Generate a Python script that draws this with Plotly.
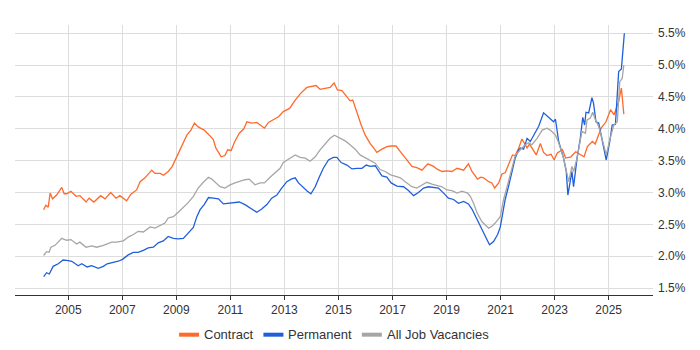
import plotly.graph_objects as go

# ---- Data (decimal years, percent) ----
contract_t = [2004.09, 2004.17, 2004.26, 2004.33, 2004.42, 2004.57, 2004.76, 2004.85, 2004.94, 2005.10,
              2005.29, 2005.43, 2005.66, 2005.77, 2005.95, 2006.20, 2006.36, 2006.57, 2006.77, 2006.91,
              2007.16, 2007.31, 2007.53, 2007.66, 2007.84, 2008.09, 2008.21, 2008.40, 2008.52, 2008.70,
              2008.85, 2009.01, 2009.20, 2009.39, 2009.54, 2009.67, 2009.81, 2010.03, 2010.22, 2010.37,
              2010.46, 2010.66, 2010.80, 2010.90, 2011.03, 2011.15, 2011.33, 2011.50, 2011.61, 2011.79,
              2011.98, 2012.14, 2012.26, 2012.41, 2012.59, 2012.78, 2012.96, 2013.19, 2013.40, 2013.61,
              2013.83, 2014.01, 2014.17, 2014.32, 2014.51, 2014.69, 2014.84, 2014.96, 2015.13, 2015.31,
              2015.43, 2015.53, 2015.68, 2015.84, 2015.99, 2016.17, 2016.30, 2016.42, 2016.61, 2016.79,
              2016.95, 2017.13, 2017.29, 2017.47, 2017.72, 2017.90, 2018.09, 2018.31, 2018.52, 2018.64,
              2018.83, 2019.01, 2019.20, 2019.39, 2019.63, 2019.81, 2019.94, 2020.15, 2020.27, 2020.37,
              2020.56, 2020.68, 2020.78, 2020.93, 2021.05, 2021.17, 2021.33, 2021.44, 2021.54, 2021.67,
              2021.79, 2021.89, 2021.98, 2022.07, 2022.20, 2022.32, 2022.47, 2022.59, 2022.72, 2022.87,
              2022.98, 2023.10, 2023.29, 2023.41, 2023.60, 2023.78, 2023.93, 2024.09, 2024.21, 2024.40,
              2024.50, 2024.72, 2024.90, 2025.07, 2025.20, 2025.37, 2025.47, 2025.56]
contract_v = [2.73, 2.80, 2.77, 2.99, 2.90, 2.96, 3.08, 2.98, 2.98, 3.02,
              2.94, 2.95, 2.85, 2.91, 2.85, 2.95, 2.90, 3.00, 2.91, 2.95,
              2.87, 2.97, 3.04, 3.17, 3.23, 3.35, 3.30, 3.30, 3.27, 3.33,
              3.41, 3.56, 3.75, 3.90, 3.98, 4.09, 4.03, 3.98, 3.90, 3.83,
              3.70, 3.56, 3.58, 3.67, 3.66, 3.79, 3.93, 4.00, 4.11, 4.09,
              4.10, 4.05, 4.01, 4.10, 4.14, 4.19, 4.27, 4.32, 4.45, 4.56,
              4.65, 4.66, 4.68, 4.62, 4.64, 4.65, 4.72, 4.61, 4.60, 4.51,
              4.44, 4.45, 4.25, 4.06, 3.90, 3.77, 3.70, 3.63, 3.68, 3.72,
              3.73, 3.73, 3.64, 3.55, 3.41, 3.39, 3.35, 3.45, 3.41, 3.37,
              3.33, 3.34, 3.33, 3.38, 3.35, 3.45, 3.33, 3.21, 3.24, 3.23,
              3.17, 3.15, 3.07, 3.15, 3.29, 3.31, 3.46, 3.59, 3.58, 3.70,
              3.84, 3.77, 3.70, 3.76, 3.66, 3.59, 3.77, 3.63, 3.58, 3.60,
              3.51, 3.62, 3.67, 3.54, 3.56, 3.64, 3.60, 3.56, 3.72, 3.80,
              3.76, 4.01, 4.11, 4.30, 4.22, 4.43, 4.64, 4.23]

permanent_t = [2004.09, 2004.20, 2004.30, 2004.44, 2004.63, 2004.81, 2005.00, 2005.13, 2005.37, 2005.50,
               2005.70, 2005.87, 2006.11, 2006.30, 2006.44, 2006.67, 2006.85, 2007.01, 2007.22, 2007.41,
               2007.59, 2007.78, 2007.96, 2008.15, 2008.33, 2008.52, 2008.70, 2008.89, 2009.07, 2009.26,
               2009.44, 2009.63, 2009.76, 2009.88, 2010.03, 2010.19, 2010.37, 2010.56, 2010.74, 2010.93,
               2011.11, 2011.33, 2011.54, 2011.73, 2011.98, 2012.16, 2012.35, 2012.53, 2012.72, 2012.90,
               2013.09, 2013.25, 2013.40, 2013.52, 2013.68, 2013.85, 2013.98, 2014.14, 2014.30, 2014.44,
               2014.63, 2014.81, 2014.94, 2015.10, 2015.31, 2015.50, 2015.68, 2015.87, 2016.03, 2016.17,
               2016.36, 2016.46, 2016.61, 2016.79, 2016.95, 2017.16, 2017.41, 2017.59, 2017.78, 2017.96,
               2018.15, 2018.33, 2018.52, 2018.70, 2018.89, 2019.07, 2019.26, 2019.44, 2019.63, 2019.81,
               2019.94, 2020.13, 2020.31, 2020.50, 2020.59, 2020.74, 2020.89, 2020.99, 2021.17, 2021.29,
               2021.42, 2021.54, 2021.67, 2021.73, 2021.85, 2021.98, 2022.10, 2022.22, 2022.41, 2022.59,
               2022.74, 2022.87, 2022.96, 2023.03, 2023.15, 2023.33, 2023.43, 2023.49, 2023.58, 2023.64,
               2023.70, 2023.83, 2023.95, 2024.04, 2024.11, 2024.16, 2024.26, 2024.38, 2024.44, 2024.53,
               2024.63, 2024.75, 2024.91, 2025.04, 2025.13, 2025.25, 2025.37, 2025.47, 2025.58]
permanent_v = [1.68, 1.74, 1.72, 1.84, 1.88, 1.94, 1.93, 1.92, 1.85, 1.88,
               1.83, 1.85, 1.81, 1.84, 1.88, 1.90, 1.92, 1.95, 2.02, 2.06,
               2.06, 2.09, 2.13, 2.14, 2.21, 2.24, 2.31, 2.28, 2.27, 2.28,
               2.36, 2.45, 2.62, 2.73, 2.81, 2.92, 2.91, 2.90, 2.82, 2.83,
               2.84, 2.85, 2.81, 2.76, 2.69, 2.74, 2.81, 2.91, 2.96, 3.07,
               3.17, 3.21, 3.23, 3.15, 3.08, 3.02, 2.98, 3.09, 3.25, 3.38,
               3.51, 3.55, 3.55, 3.47, 3.43, 3.37, 3.38, 3.38, 3.43, 3.41,
               3.42, 3.36, 3.26, 3.24, 3.15, 3.10, 3.09, 3.03, 2.95, 3.00,
               3.07, 3.09, 3.08, 3.07, 2.99, 2.91, 2.89, 2.83, 2.86, 2.82,
               2.74, 2.58, 2.41, 2.26, 2.18, 2.23, 2.34, 2.46, 2.89, 3.09,
               3.30, 3.54, 3.67, 3.70, 3.68, 3.85, 3.80, 3.90, 4.04, 4.25,
               4.19, 4.14, 4.11, 4.15, 3.80, 3.54, 3.33, 2.96, 3.17, 3.33,
               3.09, 3.54, 3.85, 4.18, 4.06, 4.26, 4.25, 4.49, 4.40, 4.11,
               4.09, 3.85, 3.51, 3.80, 4.06, 4.07, 4.90, 4.94, 5.50]

all_t = [2004.09, 2004.20, 2004.29, 2004.36, 2004.51, 2004.76, 2004.94, 2005.10, 2005.31, 2005.43,
         2005.66, 2005.87, 2006.05, 2006.30, 2006.61, 2006.79, 2007.04, 2007.22, 2007.41, 2007.59,
         2007.78, 2008.03, 2008.21, 2008.40, 2008.58, 2008.70, 2008.89, 2009.07, 2009.26, 2009.44,
         2009.63, 2009.81, 2010.00, 2010.19, 2010.31, 2010.43, 2010.62, 2010.80, 2010.99, 2011.17,
         2011.36, 2011.54, 2011.70, 2011.91, 2012.10, 2012.26, 2012.47, 2012.66, 2012.84, 2012.96,
         2013.15, 2013.40, 2013.58, 2013.77, 2013.95, 2014.14, 2014.32, 2014.51, 2014.69, 2014.85,
         2015.06, 2015.25, 2015.43, 2015.62, 2015.80, 2015.99, 2016.17, 2016.36, 2016.54, 2016.73,
         2016.91, 2017.10, 2017.29, 2017.47, 2017.72, 2017.90, 2018.09, 2018.27, 2018.46, 2018.64,
         2018.83, 2019.01, 2019.20, 2019.39, 2019.57, 2019.78, 2019.88, 2020.00, 2020.13, 2020.31,
         2020.56, 2020.68, 2020.80, 2020.99, 2021.11, 2021.24, 2021.42, 2021.54, 2021.73, 2021.91,
         2022.04, 2022.16, 2022.35, 2022.54, 2022.72, 2022.87, 2023.03, 2023.15, 2023.33, 2023.52,
         2023.64, 2023.70, 2023.83, 2024.01, 2024.14, 2024.20, 2024.32, 2024.41, 2024.51, 2024.63,
         2024.75, 2024.91, 2025.04, 2025.19, 2025.32, 2025.41, 2025.50, 2025.56]
all_v = [2.01, 2.07, 2.06, 2.14, 2.17, 2.28, 2.25, 2.26, 2.19, 2.22,
         2.14, 2.16, 2.14, 2.17, 2.22, 2.22, 2.24, 2.30, 2.34, 2.39,
         2.38, 2.46, 2.44, 2.48, 2.52, 2.60, 2.62, 2.69, 2.77, 2.84,
         2.94, 3.07, 3.16, 3.24, 3.21, 3.16, 3.09, 3.07, 3.12, 3.15,
         3.18, 3.20, 3.21, 3.12, 3.15, 3.15, 3.24, 3.31, 3.38, 3.47,
         3.52, 3.59, 3.55, 3.54, 3.49, 3.56, 3.67, 3.77, 3.85, 3.90,
         3.85, 3.81, 3.75, 3.68, 3.59, 3.55, 3.51, 3.46, 3.36, 3.33,
         3.28, 3.25, 3.23, 3.17, 3.09, 3.07, 3.12, 3.16, 3.13, 3.11,
         3.09, 3.04, 3.03, 2.99, 3.02, 2.99, 2.94, 2.83, 2.68, 2.54,
         2.44, 2.47, 2.52, 2.62, 2.89, 3.09, 3.41, 3.58, 3.67, 3.75,
         3.78, 3.75, 3.85, 3.98, 4.01, 3.97, 3.90, 3.78, 3.54, 3.17,
         3.41, 3.33, 3.54, 3.96, 3.93, 4.14, 4.17, 4.26, 4.14, 4.04,
         3.85, 3.59, 3.83, 4.06, 4.11, 4.74, 4.79, 5.00]

year_ticks = [2005, 2007, 2009, 2011, 2013, 2015, 2017, 2019, 2021, 2023, 2025]
pct_ticks = [1.5, 2.0, 2.5, 3.0, 3.5, 4.0, 4.5, 5.0, 5.5]
series_names = ["Contract", "Permanent", "All Job Vacancies"]
series_colors = ["#ff6a2b", "#1f5fdc", "#a6a6a6"]

series = list(zip(series_names, [contract_t, permanent_t, all_t],
                  [contract_v, permanent_v, all_v], series_colors))

fig = go.Figure()
for name, t, v, col in series:
    fig.add_trace(go.Scatter(x=t, y=v, mode="lines", name=name, showlegend=False,
                             line=dict(color=col, width=1.3), hoverinfo="skip"))

# ---- hand-built legend (compact, like the reference) ----
plot_left, plot_w = 15.0, 637.7          # screen pixels of the plot area
def px(x):
    return (x - plot_left) / plot_w
legend_y = -0.147
legend_line_x = [179, 263.3, 361.7]      # left edge of each swatch (screen px)
for (name, col), lx in zip(zip(series_names, series_colors), legend_line_x):
    fig.add_shape(type="line", xref="paper", yref="paper",
                  x0=px(lx), x1=px(lx + 20), y0=legend_y, y1=legend_y,
                  line=dict(color=col, width=4))
    fig.add_annotation(xref="paper", yref="paper", x=px(lx + 24), y=legend_y,
                       xanchor="left", yanchor="middle", text=name, showarrow=False,
                       font=dict(size=13, color="#333333"), borderpad=0)

# page body adds an 8px offset, margins compensate for it
fig.update_layout(
    width=700, height=350,
    margin=dict(l=7, r=55, t=17, b=63, autoexpand=False),
    paper_bgcolor="white", plot_bgcolor="white",
    showlegend=False,
    font=dict(family="Liberation Sans, Arial, sans-serif", size=12, color="#333333"),
    xaxis=dict(range=[2003.03, 2026.64], tickmode="array", tickvals=year_ticks,
               ticktext=[str(y) for y in year_ticks],
               showgrid=True, gridcolor="#dddddd", gridwidth=1,
               showline=True, linecolor="#333333", linewidth=1,
               ticks="outside", ticklen=4, tickcolor="#333333",
               zeroline=False, fixedrange=True),
    yaxis=dict(range=[1.39, 5.63], side="right", tickmode="array", tickvals=pct_ticks,
               ticktext=[f"{p:.1f}%" for p in pct_ticks],
               showgrid=True, gridcolor="#dddddd", gridwidth=1,
               showline=False, ticks="", zeroline=False, fixedrange=True,
               ticklabelstandoff=4),
)

fig.write_html("out.html")
